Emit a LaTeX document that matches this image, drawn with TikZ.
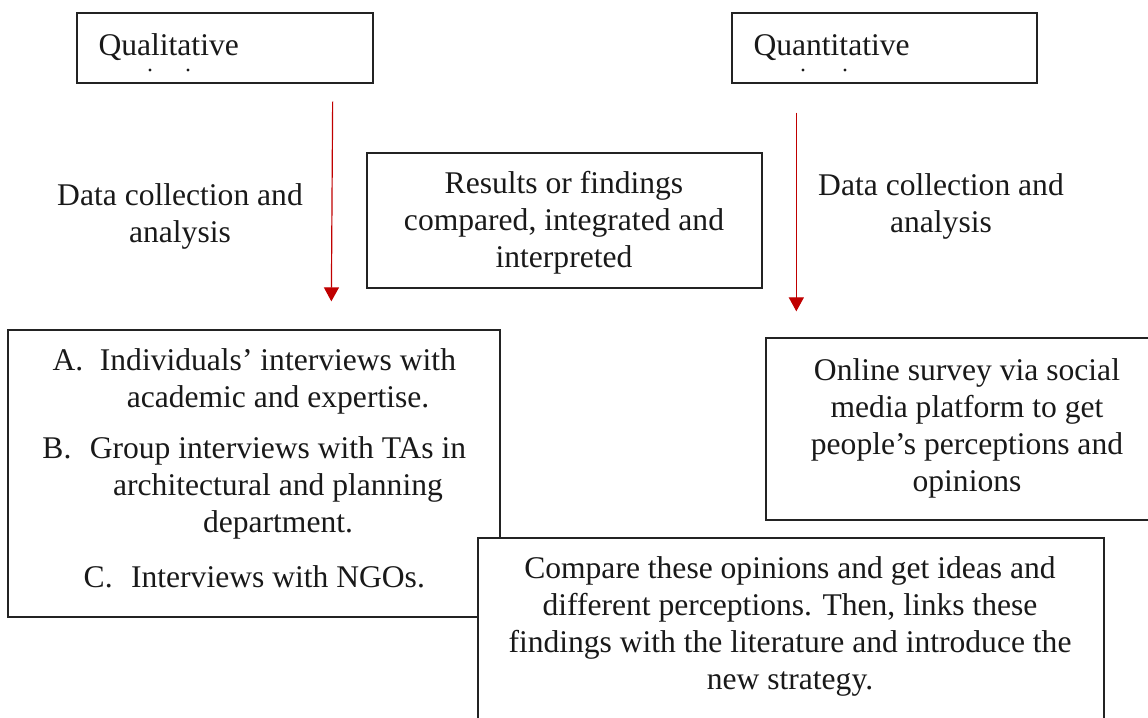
\documentclass[tikz,border=0pt]{standalone}
\usepackage{fontspec}
\setmainfont{Liberation Serif}
\usetikzlibrary{arrows.meta,fit,calc}
\definecolor{arrowred}{RGB}{192,0,0}
\definecolor{boxline}{RGB}{35,35,35}
\newcommand{\listmark}[1]{\llap{\makebox[18pt][l]{#1}}}

\begin{document}
\begin{tikzpicture}[x=0.38pt,y=-0.38pt,
  every node/.style={font=\fontsize{12}{14.06}\selectfont,text=black!90},
  box/.style={draw=boxline,line width=0.5pt,inner sep=0pt},
  words/.style={align=center,inner sep=0pt},
  flowarrow/.style={draw=arrowred,line width=0.45pt,-{Triangle[length=5.3pt,width=5.7pt]}}]
\useasboundingbox (0,0) rectangle (1148,717);
% method boxes
\node[box,fit={(77,13) (373,83)}] (qual) {};
\node[words,anchor=base west] (qualtxt) at (98,55) {Qualitative};
\fill[black!90] (150,70) circle[radius=0.6pt] (188,70) circle[radius=0.6pt];
\node[box,fit={(732,13) (1037,83)}] (quant) {};
\node[words,anchor=base west] (quanttxt) at (753,55) {Quantitative};
\fill[black!90] (803,70) circle[radius=0.6pt] (845,70) circle[radius=0.6pt];
% labels beside the arrows
\node[words] (collectleft) at (180,216) {Data collection and\\analysis};
\node[words] (collectright) at (941,206) {Data collection and\\analysis};
\node[box,fit={(367,153) (762,288)}] (results) {};
\node[words] (resultstxt) at (564,223) {Results or findings\\compared, integrated and\\interpreted};
% qualitative side
\node[box,fit={(8,330) (500,617)}] (interviews) {};
\node[words] (itemA) at (278,381) {\listmark{A.}Individuals' interviews with\\academic and expertise.};
\node[words] (itemB) at (278,488) {\listmark{B.}Group interviews with TAs in\\architectural and planning\\department.};
\node[words,anchor=base] (itemC) at (278,587) {\listmark{C.}Interviews with NGOs.};
% quantitative side
\node[box,fit={(766,338) (1168,520)}] (survey) {};
\node[words] (surveytxt) at (967,428) {Online survey via social\\media platform to get\\people's perceptions and\\opinions};
\node[box,fill=white,fit={(478,538) (1104,740)}] (compare) {};
\node[words] (comparetxt) at (790,626) {Compare these opinions and get ideas and\\different perceptions. Then, links these\\findings with the literature and introduce the\\new strategy.};
% arrows
\draw[flowarrow] ($(qual.south east)+(-41,18)$) -- ($(interviews.north west)+(324,-28)$);
\draw[flowarrow] ($(quant.south west)+(65,29)$) -- ($(survey.north west)+(31,-26)$);
\end{tikzpicture}
\end{document}
